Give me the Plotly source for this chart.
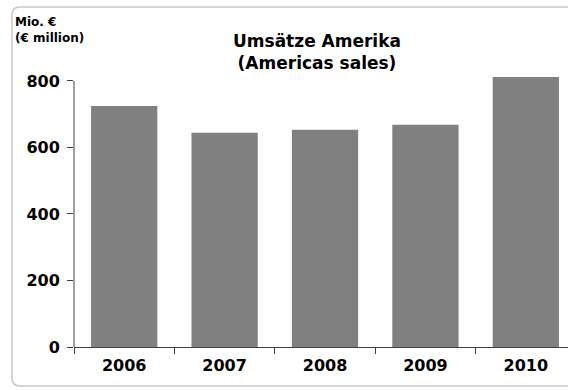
import plotly.graph_objects as go

years = ["2006", "2007", "2008", "2009", "2010"]
sales = [725, 644, 653, 668, 812]
y_ticks = [0, 200, 400, 600, 800]

FONT = "DejaVu Sans"

fig = go.Figure()
fig.add_trace(go.Bar(x=years, y=sales, marker=dict(color="#808080", line=dict(width=0)),
                     width=0.66))

L, T, B = 74, 71, 43
W, H = 568, 390
pw = W - L
ph = H - T - B

def px(x):
    return (x - L) / pw

def py(y):
    return (H - B - y) / ph

# rounded border
x0, x1, y0, y1 = px(12), px(600), py(7), py(386)
rx, ry = 8 / pw, 8 / ph
path = (f"M {x0+rx},{y0} L {x1},{y0} L {x1},{y1} L {x0+rx},{y1} "
        f"Q {x0},{y1} {x0},{y1+ry} L {x0},{y0-ry} Q {x0},{y0} {x0+rx},{y0} Z")

fig.update_layout(
    width=W, height=H,
    margin=dict(l=L, r=0, t=T, b=B),
    paper_bgcolor="white", plot_bgcolor="white",
    showlegend=False,
    font=dict(family=FONT, color="black"),
    xaxis=dict(range=[-0.5, 4.42], showline=True, linecolor="#404040", linewidth=1,
               ticks="outside", tickson="boundaries", ticklen=6, tickcolor="#404040",
               ticklabelstandoff=4,
               showgrid=False, zeroline=False,
               tickfont=dict(family=FONT, size=16, color="black", weight="bold")),
    yaxis=dict(range=[0, 830], showline=False, tickvals=y_ticks,
               ticks="outside", ticklen=6, tickcolor="#404040",
               ticklabelstandoff=4,
               showgrid=False, zeroline=False,
               tickfont=dict(family=FONT, size=16, color="black", weight="bold")),
    shapes=[
        dict(type="path", path=path, xref="paper", yref="paper",
             line=dict(color="#c8c8c8", width=1.5), fillcolor="rgba(0,0,0,0)", layer="below"),
        dict(type="line", xref="paper", yref="y", x0=0, x1=0, y0=0, y1=800,
             line=dict(color="#404040", width=1)),
    ],
    annotations=[
        dict(text="<b>Umsätze Amerika<br>(Americas sales)</b>", xref="paper", yref="paper",
             x=px(317), y=py(52), xanchor="center", yanchor="middle", showarrow=False,
             font=dict(family=FONT, size=17, color="black")),
        dict(text="<b>Mio. €<br>(€ million)</b>", xref="paper", yref="paper",
             x=px(13), y=py(30), xanchor="left", yanchor="middle", align="left", showarrow=False,
             font=dict(family=FONT, size=12, color="black")),
    ],
)

fig.write_html("out.html")
